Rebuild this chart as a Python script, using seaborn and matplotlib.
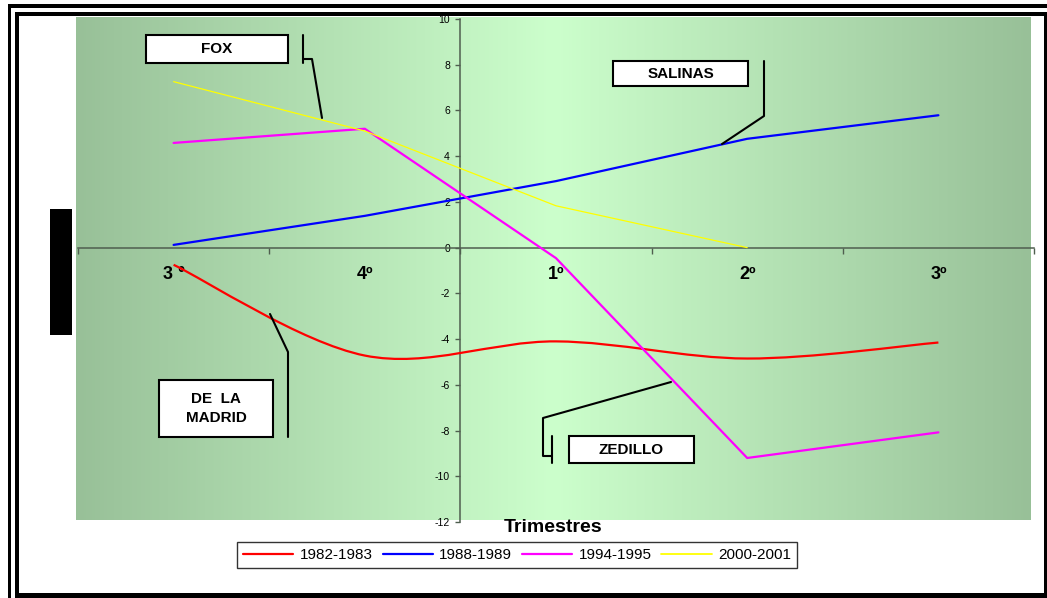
import numpy as np
import pandas as pd
import matplotlib
matplotlib.use("Agg")
import matplotlib.pyplot as plt
import seaborn as sns
from matplotlib.path import Path
from matplotlib.patches import PathPatch, Rectangle
from matplotlib.lines import Line2D

# ---------------- data ----------------
categories = ["3 °", "4º", "1º", "2º", "3º"]
series_names = ["1982-1983", "1988-1989", "1994-1995", "2000-2001"]
v1982 = [-0.75, -4.72, -4.10, -4.85, -4.15]
v1988 = [0.12, 1.39, 2.91, 4.76, 5.79]
v1994 = [4.58, 5.20, -0.46, -9.20, -8.08]
v2000 = [7.26, 5.10, 1.83, 0.00, np.nan]
y_ticks = list(range(-12, 11, 2))
x_title = "Trimestres"
labels_fox = "FOX"
labels_salinas = "SALINAS"
labels_delamadrid = "DE  LA\nMADRID"
labels_zedillo = "ZEDILLO"

# ---------------- style ----------------
colors = ["#FF0000", "#0000FF", "#FF00FF", "#FFFF00"]
widths = [1.6, 1.6, 1.6, 0.9]
spine_col = "#4F5E4F"

W, H = 1047, 598
sns.set_theme(style="white")
plt.rcParams["font.family"] = ["Liberation Sans", "DejaVu Sans"]
plt.rcParams["axes.unicode_minus"] = False
plt.rcParams["text.color"] = "black"
plt.rcParams["xtick.color"] = "black"
plt.rcParams["ytick.color"] = "black"
plt.rcParams["axes.labelcolor"] = "black"

fig = plt.figure(figsize=(W / 100, H / 100), dpi=100)
fig.patch.set_facecolor("white")


def fx(px):
    return px / W


def fy(py):
    return 1 - py / H


# background gradient (plot area)
bg = fig.add_axes([fx(76), fy(520), (1031 - 76) / W, (520 - 17) / H])
edge = np.array([152, 192, 152]) / 255
center = np.array([204, 255, 204]) / 255
t = np.linspace(0, 1, 600)
w = 1 - np.abs(2 * t - 1)
grad = edge[None, :] * (1 - w[:, None]) + center[None, :] * w[:, None]
bg.imshow(grad[None, :, :], aspect="auto", extent=[0, 1, 0, 1])
bg.set_axis_off()

ax = fig.add_axes([fx(78), fy(522), (1034 - 78) / W, (522 - 19) / H])
ax.patch.set_alpha(0)

xs = np.arange(len(categories))


# smoothed red series (Excel-like Bezier smoothing through the data points)
def smooth_path(x, y):
    P = np.column_stack([x, y]).astype(float)
    n = len(P)
    verts = [P[0]]
    codes = [Path.MOVETO]
    for i in range(n - 1):
        p0 = P[i - 1] if i > 0 else P[i]
        p3 = P[i + 2] if i + 2 < n else P[i + 1]
        c1 = P[i] + (P[i + 1] - p0) / 6
        c2 = P[i + 1] - (p3 - P[i]) / 6
        verts += [c1, c2, P[i + 1]]
        codes += [Path.CURVE4] * 3
    return Path(verts, codes)


ax.add_patch(PathPatch(smooth_path(xs, v1982), facecolor="none",
                       edgecolor=colors[0], lw=widths[0], zorder=3))

for vals, name, c, lw in zip([v1988, v1994, v2000], series_names[1:],
                             colors[1:], widths[1:]):
    df = pd.DataFrame({"x": xs, "y": vals}).dropna()
    sns.lineplot(data=df, x="x", y="y", color=c, linewidth=lw, ax=ax,
                 sort=False, zorder=3)

ax.set_xlim(-0.5, 4.5)
ax.set_ylim(-12, 10)
ax.set_xlabel("")
ax.set_ylabel("")
ax.grid(False)
for s in ["top", "right"]:
    ax.spines[s].set_visible(False)
ax.spines["left"].set_position(("data", 1.5))
ax.spines["bottom"].set_position(("data", 0))
for s in ["left", "bottom"]:
    ax.spines[s].set_color(spine_col)
    ax.spines[s].set_linewidth(1.1)

ax.set_yticks(y_ticks)
ax.set_yticklabels([str(v) for v in y_ticks], fontsize=7.5)
ax.tick_params(axis="y", left=True, direction="out", length=3.5, width=1,
               color=spine_col, pad=4, labelcolor="black")

ax.set_xticks(np.arange(-0.5, 5, 1))
ax.set_xticklabels([""] * 6)
ax.set_xticks(xs, minor=True)
ax.set_xticklabels(categories, minor=True, fontsize=13, fontweight="bold")
ax.tick_params(axis="x", which="major", bottom=True, direction="out",
               length=4.5, width=1, color=spine_col)
ax.tick_params(axis="x", which="minor", bottom=True, length=0, pad=13,
               labelcolor="black")

fig.text(fx(553), fy(528), x_title, ha="center", va="center",
         fontsize=14, fontweight="bold", color="black")

handles = [Line2D([], [], color=c, lw=lw if lw > 1 else 1.3)
           for c, lw in zip(colors, widths)]
leg = fig.legend(handles, series_names, loc="center",
                 bbox_to_anchor=(fx(517), fy(555)), ncol=4, frameon=True,
                 fancybox=False, edgecolor="black", fontsize=11,
                 handlelength=3.3, handletextpad=0.4, columnspacing=0.65,
                 borderpad=0.4, labelcolor="black")
leg.get_frame().set_linewidth(1.0)
leg.get_frame().set_facecolor("white")


# annotation boxes
def box(x0, y0, x1, y1, text, fs=11, ls=1.2):
    fig.add_artist(Rectangle((fx(x0), fy(y1)), (x1 - x0) / W, (y1 - y0) / H,
                             transform=fig.transFigure, facecolor="white",
                             edgecolor="black", lw=1.5, zorder=5))
    fig.text(fx((x0 + x1) / 2), fy((y0 + y1) / 2), text, ha="center",
             va="center", fontsize=fs, fontweight="bold", linespacing=ls,
             color="black", zorder=6)


def callout(pts):
    fig.add_artist(Line2D([fx(p[0]) for p in pts], [fy(p[1]) for p in pts],
                          transform=fig.transFigure, color="black", lw=1.5,
                          zorder=5))


box(146, 35, 288, 63, labels_fox)
callout([(303, 35), (303, 63)])
callout([(303, 59), (312, 59), (322, 118)])

box(613, 61, 748, 86, labels_salinas)
callout([(764, 61), (764, 116), (722, 144)])

box(159, 380, 273, 437, labels_delamadrid, ls=1.45)
callout([(270, 314), (288, 352), (288, 437)])

box(569, 436, 694, 463, labels_zedillo)
callout([(671, 382), (543, 418), (543, 456), (552, 456)])
callout([(552, 436), (552, 463)])

# black block on the left (hidden axis title)
fig.add_artist(Rectangle((fx(50), fy(335)), 22 / W, 126 / H,
                         transform=fig.transFigure, facecolor="black",
                         edgecolor="none", zorder=5))

# frame lines
for (x0, y0, x1, y1) in [(8, 4, W, 8), (8, 4, 11, H), (15, 12, W, 16),
                         (15, 12, 19, H), (15, 593, W, H), (1044, 12, W, H)]:
    fig.add_artist(Rectangle((fx(x0), fy(y1)), (x1 - x0) / W, (y1 - y0) / H,
                             transform=fig.transFigure, facecolor="black",
                             edgecolor="none", zorder=7))

fig.savefig("out.png", dpi=100)
